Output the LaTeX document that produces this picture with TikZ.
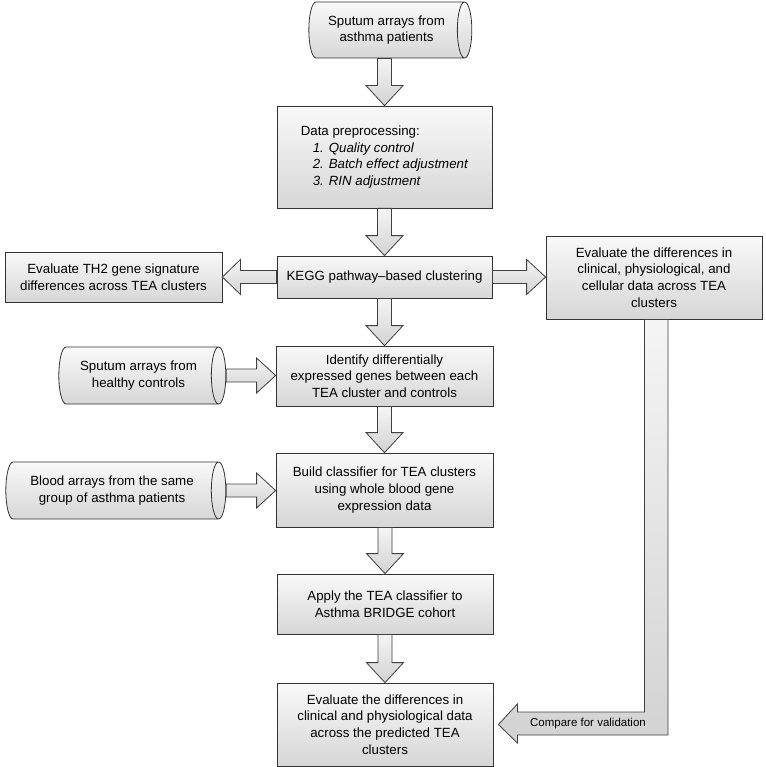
\documentclass[tikz,border=0pt]{standalone}
\usepackage{fontspec}
\setmainfont{Liberation Sans}
\usetikzlibrary{shapes.geometric,calc}
\newcommand\blkdown[2]{\path[blk] let \p1=(#1.south), \p2=(#2.north) in
  (\x2-7pt,\y1) -- (\x2+7pt,\y1) -- (\x2+7pt,\y2+20pt) -- (\x2+18.5pt,\y2+20pt) --
  (\x2,\y2) -- (\x2-18.5pt,\y2+20pt) -- (\x2-7pt,\y2+20pt) -- cycle;}
\newcommand\blkright[2]{\path[blk] let \p1=(#1), \p2=(#2) in
  (\x1,\y1+6.5pt) -- (\x2-19pt,\y1+6.5pt) -- (\x2-19pt,\y1+17.5pt) -- (\x2,\y1) --
  (\x2-19pt,\y1-17.5pt) -- (\x2-19pt,\y1-6.5pt) -- (\x1,\y1-6.5pt) -- cycle;}
\newcommand\blkleft[2]{\path[blk] let \p1=(#1), \p2=(#2) in
  (\x1,\y1+6.5pt) -- (\x2+18pt,\y1+6.5pt) -- (\x2+18pt,\y1+17.5pt) -- (\x2,\y1) --
  (\x2+18pt,\y1-17.5pt) -- (\x2+18pt,\y1-6.5pt) -- (\x1,\y1-6.5pt) -- cycle;}
\begin{document}
\begin{tikzpicture}[x=1pt,y=-1pt,
  box/.style={draw=black!80, line width=0.8pt, top color=gray!5, bottom color=gray!32,
    align=center, inner sep=0pt, font=\fontsize{13.3}{16.6}\selectfont},
  cyl/.style={box, shape=cylinder, shape border rotate=0, aspect=0.5},
  blk/.style={draw=black!75, line width=0.8pt, top color=gray!8, bottom color=gray!35},
]
\useasboundingbox (0,0) rectangle (765,767);
\fill[white] (0,0) rectangle (765,767);

\node[cyl, minimum height=163, minimum width=56] (top) at (386.5,30)
  {Sputum arrays from\\asthma patients};
\node[box, minimum width=215, minimum height=102, align=left] (pre) at (384.5,157)
  {Data preprocessing:\\\hspace*{12pt}\textit{1. Quality control}\\
   \hspace*{12pt}\textit{2. Batch effect adjustment}\\\hspace*{12pt}\textit{3. RIN adjustment}};
\node[box, minimum width=215, minimum height=42] (kegg) at (384.5,277)
  {KEGG pathway–based clustering};
\node[box, minimum width=217, minimum height=50] (th2) at (113.5,277)
  {Evaluate TH2 gene signature\\differences across TEA clusters};
\node[box, minimum width=216, minimum height=83] (rbox) at (654,277.5)
  {Evaluate the differences in\\clinical, physiological, and\\cellular data across TEA\\clusters};
\node[box, minimum width=217, minimum height=60] (ident) at (384.5,376)
  {Identify differentially\\expressed genes between each\\TEA cluster and controls};
\node[cyl, minimum height=167, minimum width=57] (healthy) at (138.5,375.5)
  {Sputum arrays from\\healthy controls};
\node[cyl, minimum height=220, minimum width=57] (blood) at (112,490.5)
  {Blood arrays from the same\\group of asthma patients};
\node[box, minimum width=217, minimum height=74] (build) at (384.5,490)
  {Build classifier for TEA clusters\\using whole blood gene\\expression data};
\node[box, minimum width=216, minimum height=60] (apply) at (385,604)
  {Apply the TEA classifier to\\Asthma BRIDGE cohort};
\node[box, minimum width=216, minimum height=83] (final) at (385,724.5)
  {Evaluate the differences in\\clinical and physiological data\\across the predicted TEA\\clusters};

\blkdown{top}{pre}
\blkdown{pre}{kegg}
\blkdown{kegg}{ident}
\blkdown{ident}{build}
\blkdown{build}{apply}
\blkdown{apply}{final}
\blkleft{kegg.west}{th2.east}
\blkright{kegg.east}{rbox.west}
\blkright{healthy.east}{ident.west}
\blkright{blood.east}{build.west}
\path[blk] let \p1=(rbox.south), \p2=(final.east) in
  (\x1-9.5pt,\y1) -- (\x1+14pt,\y1) -- (\x1+14pt,\y2-10.5pt) -- (\x2+24pt,\y2-10.5pt) --
  (\x2+24pt,\y2-18.5pt) -- (\x2+5pt,\y2) -- (\x2+24pt,\y2+20.5pt) --
  (\x2+24pt,\y2+12.5pt) -- (\x1-9.5pt,\y2+12.5pt) -- cycle;
\node[font=\fontsize{11.5}{13}\selectfont] (cmp) at (588,724) {Compare for validation};
\end{tikzpicture}
\end{document}
